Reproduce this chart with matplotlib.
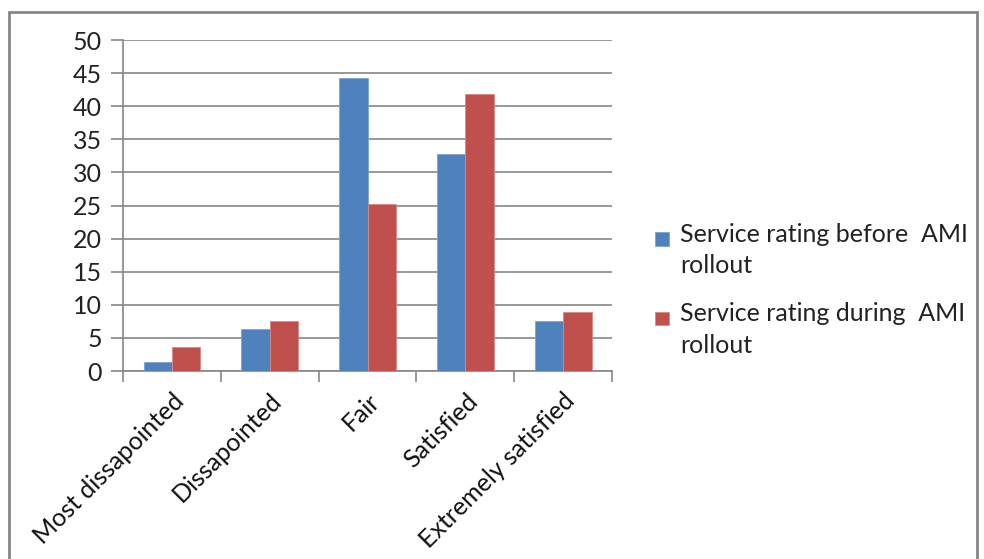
import numpy as np
import matplotlib
matplotlib.use("Agg")
from matplotlib import pyplot as plt
from matplotlib.patches import Rectangle
from matplotlib.legend_handler import HandlerPatch

categories = ["Most dissapointed", "Dissapointed", "Fair", "Satisfied", "Extremely satisfied"]
before = [1.3, 6.3, 44.3, 32.8, 7.6]
during = [3.7, 7.6, 25.3, 41.8, 8.9]
labels = ["Service rating before  AMI\nrollout", "Service rating during  AMI\nrollout"]

plt.rcParams['font.family'] = ['Lato', 'DejaVu Sans']
grid_col = '#868686'

fig = plt.figure(figsize=(9.84, 5.59), dpi=100)
ax = fig.add_axes([0.125, 0.3363, 0.497, 0.5921])

x = np.arange(len(categories))
w = 0.29
b1 = ax.bar(x - w/2, before, w, color='#4F81BD', edgecolor='#7FA3D3', linewidth=0.6, label=labels[0], zorder=3)
b2 = ax.bar(x + w/2, during, w, color='#C0504D', edgecolor='#D88A88', linewidth=0.6, label=labels[1], zorder=3)

ax.set_ylim(0, 50)
ax.set_xlim(-0.5, len(categories) - 0.5)
ax.set_yticks(range(0, 51, 5))
ax.yaxis.grid(True, color=grid_col, linewidth=1.2, zorder=0)
ax.tick_params(axis='y', length=9, color=grid_col, width=1.2, labelsize=18, pad=6, labelcolor='#222222')

ax.set_xticks(x)
ax.set_xticklabels(categories, rotation=45, ha='right', rotation_mode='anchor', fontsize=18, color='#111111')
ax.tick_params(axis='x', length=0, pad=13)
ax.set_xticks(np.arange(-0.5, len(categories)), minor=True)
ax.tick_params(axis='x', which='minor', length=8, color=grid_col, width=1.2)

for s in ['top', 'right']:
    ax.spines[s].set_visible(False)
for s in ['left', 'bottom']:
    ax.spines[s].set_color(grid_col)
    ax.spines[s].set_linewidth(1.2)


def top_square(legend, orig_handle, xdescent, ydescent, width, height, fontsize):
    sq = width
    return Rectangle((-xdescent, -ydescent + height - sq * 1.0), sq, sq)


h1, h2 = b1.patches[0], b2.patches[0]
leg = fig.legend(handles=[h1, h2], labels=labels, loc='upper left', bbox_to_anchor=(0.643, 0.642),
                 frameon=False, fontsize=18, handlelength=0.55, handleheight=2.0, handletextpad=0.45,
                 labelspacing=1.0, labelcolor='#222222',
                 handler_map={h1: HandlerPatch(patch_func=top_square), h2: HandlerPatch(patch_func=top_square)})
for t in leg.get_texts():
    t.set_linespacing(1.45)

# outer chart frame
fig.patches.append(Rectangle((9/984, -0.01), 968/984, 1 - 12/559 + 0.01, transform=fig.transFigure,
                             fill=False, edgecolor=grid_col, linewidth=2))

fig.savefig("out.png", dpi=100)
